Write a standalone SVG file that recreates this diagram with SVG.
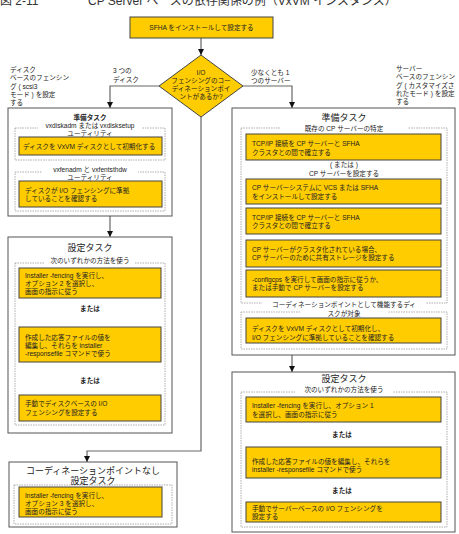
<svg xmlns="http://www.w3.org/2000/svg" width="459" height="534" viewBox="0 0 459 534">
<style>
text{font-family:"Liberation Sans","Noto Sans CJK JP",sans-serif;font-size:6.6px;fill:#222}
.c{text-anchor:middle}
.h{font-size:9px}
.b{font-weight:bold}
.y{fill:#FFCC00;stroke:#444;stroke-width:1}
.box{fill:#fff;stroke:#555;stroke-width:1}
.grp{fill:none;stroke:#999;stroke-width:0.8;stroke-dasharray:1.5 1}
.lbg{fill:#fff}
.ln{fill:none;stroke:#666;stroke-width:1.2}
.ttl{font-size:12px;fill:#333}
</style>
<defs>
<marker id="ah" viewBox="0 0 6 6" refX="6" refY="3" markerWidth="6" markerHeight="6" markerUnits="userSpaceOnUse" orient="auto">
<path d="M0,0 L6,3 L0,6 z" fill="#111"/>
</marker>
</defs>
<rect width="459" height="534" fill="#fff"/>
<text class="ttl" x="0" y="5">図 2-11</text>
<text class="ttl" x="88" y="5">CP Server ベースの依存関係の例（VxVM インスタンス）</text>

<g id="connectors">
<path class="ln" d="M201,38 V55" marker-end="url(#ah)"/>
<path class="ln" d="M159,86 H110 V108" marker-end="url(#ah)"/>
<path class="ln" d="M243,86 H292 V108" marker-end="url(#ah)"/>
<path class="ln" d="M201,117 V451 H87 V462" marker-end="url(#ah)"/>
<path class="ln" d="M110,216 V237" marker-end="url(#ah)"/>
<path class="ln" d="M292,355 V372" marker-end="url(#ah)"/>
<text x="113" y="73">3 つの</text>
<text x="113" y="81.5">ディスク</text>
<text x="251" y="74.5">少なくとも 1</text>
<text x="251" y="83">つのサーバー</text>
</g>

<g id="note-left">
<text x="10" y="71.5">ディスク</text>
<text x="10" y="80">ベースのフェンシン</text>
<text x="10" y="88.5">グ ( scsi3</text>
<text x="10" y="97">モード ) を設定</text>
<text x="10" y="105">する</text>
</g>
<g id="note-right">
<text x="396" y="70.5">サーバー</text>
<text x="396" y="79">ベースのフェンシン</text>
<text x="396" y="87.5">グ ( カスタマイズさ</text>
<text x="396" y="96">れたモード ) を設定</text>
<text x="396" y="104">する</text>
</g>

<g id="start">
<rect class="y" x="130" y="17" width="143" height="21"/>
<text class="c" x="201.5" y="30">SFHA をインストールして設定する</text>
</g>

<g id="decision">
<path class="y" d="M201,55 L243,86 L201,117 L159,86 z"/>
<text class="c" x="201" y="75">I/O</text>
<text class="c" x="201" y="83">フェンシングのコー</text>
<text class="c" x="201" y="91">ディネーションポイ</text>
<text class="c" x="201" y="99">ントがあるか?</text>
</g>

<g id="left-prep">
<rect class="box" x="8" y="108" width="164" height="108"/>
<rect class="grp" x="15" y="128" width="150" height="32"/>
<rect class="grp" x="15" y="172" width="150" height="39"/>
<rect class="lbg" x="38" y="121" width="104" height="14"/>
<rect class="lbg" x="42" y="165" width="96" height="14"/>
<text class="c b" x="90" y="119.5">準備タスク</text>
<text class="c" x="90" y="127.5">vxdiskadm または vxdisksetup</text>
<text class="c" x="90" y="135.5">ユーティリティ</text>
<rect class="y" x="19" y="137" width="143" height="18"/>
<text x="23" y="148.5">ディスクを VxVM ディスクとして初期化する</text>
<text class="c" x="90" y="171.5">vxfenadm と vxfentsthdw</text>
<text class="c" x="90" y="179.5">ユーティリティ</text>
<rect class="y" x="19" y="181" width="143" height="26"/>
<text x="25" y="192.5">ディスクが I/O フェンシングに準拠</text>
<text x="25" y="200.5">していることを確認する</text>
</g>

<g id="left-config">
<rect class="box" x="8" y="237" width="164" height="196"/>
<rect class="grp" x="15" y="263" width="150" height="162"/>
<rect class="lbg" x="45" y="256" width="90" height="9"/>
<text class="c h" x="90" y="250.5">設定タスク</text>
<text class="c" x="90" y="262.5">次のいずれかの方法を使う</text>
<rect class="y" x="19" y="268" width="142" height="30"/>
<text x="25" y="277.5">Installer -fencing を実行し、</text>
<text x="25" y="285.5">オプション 2 を選択し、</text>
<text x="25" y="293.5">画面の指示に従う</text>
<text class="c b" x="90" y="310.5">または</text>
<rect class="y" x="19" y="327" width="142" height="35"/>
<text x="25" y="339.5">作成した応答ファイルの値を</text>
<text x="25" y="347.5">編集し、それらを installer</text>
<text x="25" y="356">-responsefile コマンドで使う</text>
<text class="c b" x="90" y="382.5">または</text>
<rect class="y" x="19" y="395" width="142" height="26"/>
<text x="25" y="406">手動でディスクベースの I/O</text>
<text x="25" y="415">フェンシングを設定する</text>
</g>

<g id="left-nocp">
<rect class="box" x="9" y="462" width="168" height="65"/>
<rect class="grp" x="14" y="485" width="158" height="39"/>
<text class="c h" x="93" y="473.5">コーディネーションポイントなし</text>
<text class="c h" x="93" y="483.5">設定タスク</text>
<rect class="y" x="19" y="487" width="143" height="30"/>
<text x="25" y="497.5">Installer -fencing を実行し、</text>
<text x="25" y="505.5">オプション 3 を選択し、</text>
<text x="25" y="513.5">画面の指示に従う</text>
</g>

<g id="right-prep">
<rect class="box" x="232" y="108" width="223" height="247"/>
<rect class="grp" x="241" y="128" width="206" height="175"/>
<rect class="grp" x="241" y="312" width="206" height="37"/>
<rect class="lbg" x="280" y="124" width="128" height="8"/>
<rect class="lbg" x="262" y="299" width="164" height="8"/>
<rect class="lbg" x="300" y="308" width="88" height="8"/>
<text class="c h" x="344" y="120.5">準備タスク</text>
<text class="c" x="344" y="130.5">既存の CP サーバーの特定</text>
<rect class="y" x="246" y="134" width="195" height="26"/>
<text x="252" y="145.5">TCP/IP 接続を CP サーバーと SFHA</text>
<text x="252" y="154.5">クラスタとの間で確立する</text>
<text class="c" x="344" y="166.5">( または )</text>
<text class="c" x="344" y="175.5">CP サーバーを設定する</text>
<rect class="y" x="246" y="179" width="195" height="25"/>
<text x="252" y="189.5">CP サーバーシステムに VCS または SFHA</text>
<text x="252" y="198.5">をインストールして設定する</text>
<rect class="y" x="246" y="208" width="195" height="26"/>
<text x="252" y="219.5">TCP/IP 接続を CP サーバーと SFHA</text>
<text x="252" y="227.5">クラスタとの間で確立する</text>
<rect class="y" x="246" y="240" width="195" height="27"/>
<text x="252" y="251.5">CP サーバーがクラスタ化されている場合、</text>
<text x="252" y="259.5">CP サーバーのために共有ストレージを設定する</text>
<rect class="y" x="246" y="270" width="195" height="27"/>
<text x="252" y="281.5">-configcps を実行して画面の指示に従うか、</text>
<text x="252" y="289.5">または手動で CP サーバーを設定する</text>
<text class="c" x="344" y="306.5">コーディネーションポイントとして機能するディ</text>
<text class="c" x="344" y="315.5">スクが対象</text>
<rect class="y" x="246" y="318" width="195" height="25"/>
<text x="252" y="330.5">ディスクを VxVM ディスクとして初期化し、</text>
<text x="252" y="339.5">I/O フェンシングに準拠していることを確認する</text>
</g>

<g id="right-config">
<rect class="box" x="232" y="372" width="223" height="160"/>
<rect class="grp" x="241" y="392" width="206" height="135"/>
<rect class="lbg" x="295" y="385" width="98" height="9"/>
<text class="c h" x="344" y="381.5">設定タスク</text>
<text class="c" x="344" y="391.5">次のいずれかの方法を使う</text>
<rect class="y" x="246" y="397" width="195" height="25"/>
<text x="252" y="407.5">Installer -fencing を実行し、オプション 1</text>
<text x="252" y="416.5">を選択し、画面の指示に従う</text>
<text class="c b" x="342" y="436.5">または</text>
<rect class="y" x="246" y="447" width="195" height="31"/>
<text x="252" y="463.5">作成した応答ファイルの値を編集し、それらを</text>
<text x="252" y="471.5">installer -responsefile コマンドで使う</text>
<text class="c b" x="342" y="492.5">または</text>
<rect class="y" x="246" y="502" width="195" height="20"/>
<text x="252" y="510.5">手動でサーバーベースの I/O フェンシングを</text>
<text x="252" y="519">設定する</text>
</g>
</svg>
